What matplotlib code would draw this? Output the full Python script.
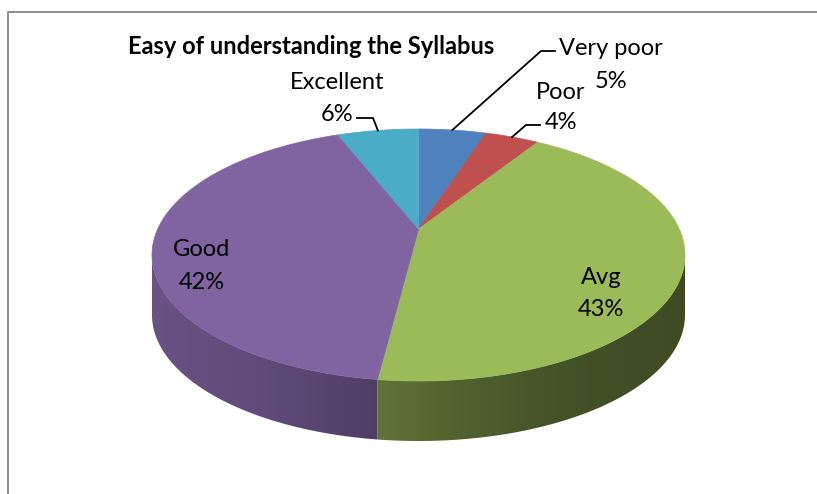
import numpy as np
import matplotlib.pyplot as plt
from matplotlib.colors import to_rgb
from matplotlib.patches import Polygon

# data
categories = ["Very poor", "Poor", "Avg", "Good", "Excellent"]
percent = [5, 4, 43, 42, 6]
colors = ["#4F81BD", "#C0504D", "#9BBB59", "#8064A2", "#4BACC6"]
title = "Easy of understanding the Syllabus"

# layout (pixels)
W, H = 817, 494
CX, CY = 418.5, 255.0      # centre of the projected top ellipse
RX, RY = 266.5, 126.0
DEPTH = 60
TILT = 0.209               # perspective: shifts the pie centre to the far side
FONT = "Lato"
FS = 17

# label centres (x) and baselines (y) for the two lines of each label
label_pos = {
    "Very poor": (611, 55, 88),
    "Poor": (561, 99, 129),
    "Avg": (601, 284, 316),
    "Good": (202, 256, 289),
    "Excellent": (337, 89, 121),
}
# leader line elbows: (label end x, y, elbow x)
leaders = {
    "Very poor": (555, 51, 541),
    "Poor": (540, 125, 526),
    "Excellent": (357, 118, 373),
}


def project(theta, drop=0.0):
    # theta in degrees, clockwise from 12 o'clock on the flat disc
    th = np.radians(theta)
    u, v = np.sin(th), np.cos(th)
    sh, ch = np.sinh(TILT), np.cosh(TILT)
    d = v * sh + ch
    x = CX + RX * u / d
    y = CY - RY * (v * ch + sh) / d + drop
    return x, y


def side_shade(x):
    return np.interp(x, [152, 270, 378, 480, 580, 685],
                     [0.82, 0.74, 0.62, 0.50, 0.43, 0.40])


fig = plt.figure(figsize=(W / 100, H / 100), dpi=100)
ax = fig.add_axes([0, 0, 1, 1])
ax.set_xlim(0, W)
ax.set_ylim(H, 0)
ax.axis("off")

# outer frame (left and top only)
ax.plot([8.5, 8.5, W], [H, 12, 12], color="#8c8c8c", lw=1.4, solid_capstyle="butt")

total = sum(percent)
starts = np.cumsum([0] + percent[:-1]) / total * 360
ends = np.cumsum(percent) / total * 360

# visible front side spans where the rim is below the ellipse's widest points
front_a = np.degrees(np.arccos(-np.tanh(TILT)))
front_b = 360 - front_a

# side walls: gradient image clipped to each slice's wall
gx = np.linspace(0, W, W + 1)
for a1, a2, col in zip(starts, ends, colors):
    lo, hi = max(a1, front_a), min(a2, front_b)
    if lo >= hi:
        continue
    th = np.linspace(lo, hi, 200)
    xs, ys = project(th)
    pts = list(zip(xs, ys)) + list(zip(xs[::-1], ys[::-1] + DEPTH))
    wall = Polygon(pts, closed=True, facecolor="none", edgecolor="none")
    ax.add_patch(wall)
    base = np.array(to_rgb(col))
    grad = base[None, :] * side_shade(gx)[:, None]
    img = ax.imshow(grad[None, :, :], extent=(0, W, H, 0), aspect="auto",
                    interpolation="bilinear", zorder=1)
    img.set_clip_path(wall)

# top faces
cx0, cy0 = CX, CY - RY * np.tanh(TILT)
for a1, a2, col in zip(starts, ends, colors):
    th = np.linspace(a1, a2, max(int((a2 - a1) / 0.5), 2) + 1)
    xs, ys = project(th)
    pts = [(cx0, cy0)] + list(zip(xs, ys))
    ax.add_patch(Polygon(pts, closed=True, facecolor=col, edgecolor=col,
                         lw=0.5, zorder=2))

ax.set_xlim(0, W)
ax.set_ylim(H, 0)

# title
ax.text(311, 54, title, ha="center", va="baseline", fontsize=FS,
        fontweight="bold", family=FONT, color="black", zorder=4)

# data labels
for cat, p, a1, a2 in zip(categories, percent, starts, ends):
    x, yb1, yb2 = label_pos[cat]
    ax.text(x, yb1, cat, ha="center", va="baseline", fontsize=FS, family=FONT,
            color="black", zorder=4)
    ax.text(x, yb2, f"{p}%", ha="center", va="baseline", fontsize=FS, family=FONT,
            color="black", zorder=4)
    if cat in leaders:
        lx, ly, ex = leaders[cat]
        px, py = project((a1 + a2) / 2)
        ax.plot([lx, ex, px], [ly, ly, py], color="black", lw=1.3, zorder=3)

fig.savefig("out.png", dpi=100)
